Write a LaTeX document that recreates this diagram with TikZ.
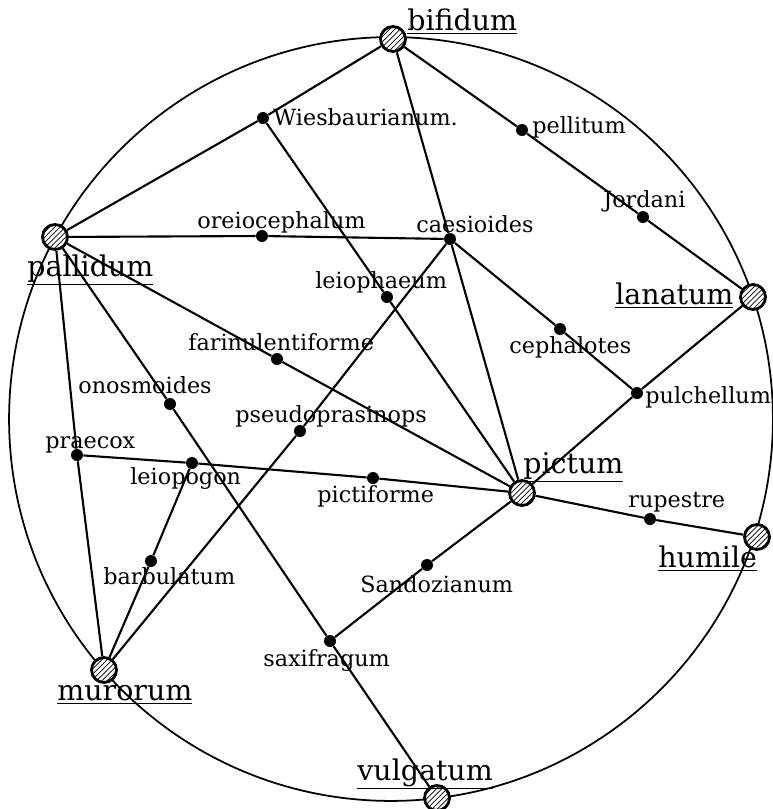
\documentclass[tikz,border=0pt]{standalone}
\usepackage{fontspec}
\setmainfont{DejaVu Serif}
\usetikzlibrary{patterns}
\begin{document}
\begin{tikzpicture}[x=0.02cm, y=-0.02cm,
  species/.style={circle, draw, line width=1.6pt, minimum size=0.5cm, inner sep=0pt,
    preaction={fill=white}, pattern=north east lines},
  form/.style={circle, fill, minimum size=0.24cm, inner sep=0pt},
  link/.style={line width=1.2pt},
  lab/.style={anchor=base west, inner sep=0pt, font=\fontsize{12.7}{16}\selectfont},
  biglab/.style={anchor=base west, inner sep=0pt, font=\fontsize{16.2}{20}\selectfont}]
\useasboundingbox (0,0) rectangle (772,809);
% outer ring
\draw[line width=1pt] (391,419) circle (7.64cm);
% main species
\node[species] (bifidum) at (393,39) {};
\node[species] (pallidum) at (55,237) {};
\node[species] (lanatum) at (753,297) {};
\node[species] (pictum) at (522,493) {};
\node[species] (humile) at (757,537) {};
\node[species] (murorum) at (104,670) {};
\node[species] (vulgatum) at (437,798) {};
% intermediate forms
\node[form] (wiesbaurianum) at (263,118) {};
\node[form] (oreiocephalum) at (262,236) {};
\node[form] (pellitum) at (522,130) {};
\node[form] (jordani) at (643,217) {};
\node[form] (caesioides) at (450,239) {};
\node[form] (leiophaeum) at (387,297) {};
\node[form] (cephalotes) at (560,329) {};
\node[form] (farinulentiforme) at (277,359) {};
\node[form] (pulchellum) at (637,393) {};
\node[form] (onosmoides) at (170,404) {};
\node[form] (pseudoprasinops) at (300,431) {};
\node[form] (praecox) at (77,455) {};
\node[form] (leiopogon) at (192,463) {};
\node[form] (pictiforme) at (373,478) {};
\node[form] (rupestre) at (650,519) {};
\node[form] (barbulatum) at (151,561) {};
\node[form] (sandozianum) at (427,565) {};
\node[form] (saxifragum) at (330,641) {};
% links
\draw[link] (pallidum) -- (wiesbaurianum) -- (bifidum);
\draw[link] (wiesbaurianum) -- (leiophaeum) -- (pictum);
\draw[link] (bifidum) -- (pellitum) -- (jordani) -- (lanatum);
\draw[link] (bifidum) -- (caesioides) -- (pictum);
\draw[link] (pallidum) -- (oreiocephalum) -- (caesioides) -- (cephalotes) -- (pulchellum) -- (lanatum);
\draw[link] (pulchellum) -- (pictum) -- (rupestre) -- (humile);
\draw[link] (caesioides) -- (pseudoprasinops) -- (murorum);
\draw[link] (pallidum) -- (farinulentiforme) -- (pictum);
\draw[link] (pallidum) -- (onosmoides) -- (saxifragum) -- (vulgatum);
\draw[link] (pallidum) -- (praecox) -- (murorum);
\draw[link] (praecox) -- (leiopogon) -- (pictiforme) -- (pictum);
\draw[link] (leiopogon) -- (barbulatum) -- (murorum);
\draw[link] (pictum) -- (sandozianum) -- (saxifragum);
% names
\node[biglab] (lbifidum) at (407,30) {\underline{bifidum}};
\node[biglab] (lpallidum) at (27,276) {\underline{pallidum}};
\node[biglab] (llanatum) at (615,304) {\underline{lanatum}};
\node[biglab] (lpictum) at (523,473) {\underline{pictum}};
\node[biglab] (lhumile) at (658,567) {\underline{humile}};
\node[biglab] (lmurorum) at (57,700) {\underline{murorum}};
\node[biglab] (lvulgatum) at (357,780) {\underline{vulgatum}};
\node[lab] (lwiesbaurianum) at (273,125) {Wiesbaurianum.};
\node[lab] (loreiocephalum) at (197,228) {oreiocephalum};
\node[lab] (lpellitum) at (532,133) {pellitum};
\node[lab] (ljordani) at (603,207) {Jordani};
\node[lab] (lcaesioides) at (416,232) {caesioides};
\node[lab] (lleiophaeum) at (315,288) {leiophaeum};
\node[lab] (lcephalotes) at (509,353) {cephalotes};
\node[lab] (lfarinulentiforme) at (188,350) {farinulentiforme};
\node[lab] (lpulchellum) at (645,403) {pulchellum};
\node[lab] (lonosmoides) at (78,393) {onosmoides};
\node[lab] (lpseudoprasinops) at (235,422) {pseudoprasinops};
\node[lab] (lpraecox) at (45,448) {praecox};
\node[lab] (lleiopogon) at (130,484) {leiopogon};
\node[lab] (lpictiforme) at (317,502) {pictiforme};
\node[lab] (lrupestre) at (628,507) {rupestre};
\node[lab] (lbarbulatum) at (103,584) {barbulatum};
\node[lab] (lsandozianum) at (360,592) {Sandozianum};
\node[lab] (lsaxifragum) at (263,666) {saxifragum};
\end{tikzpicture}
\end{document}
